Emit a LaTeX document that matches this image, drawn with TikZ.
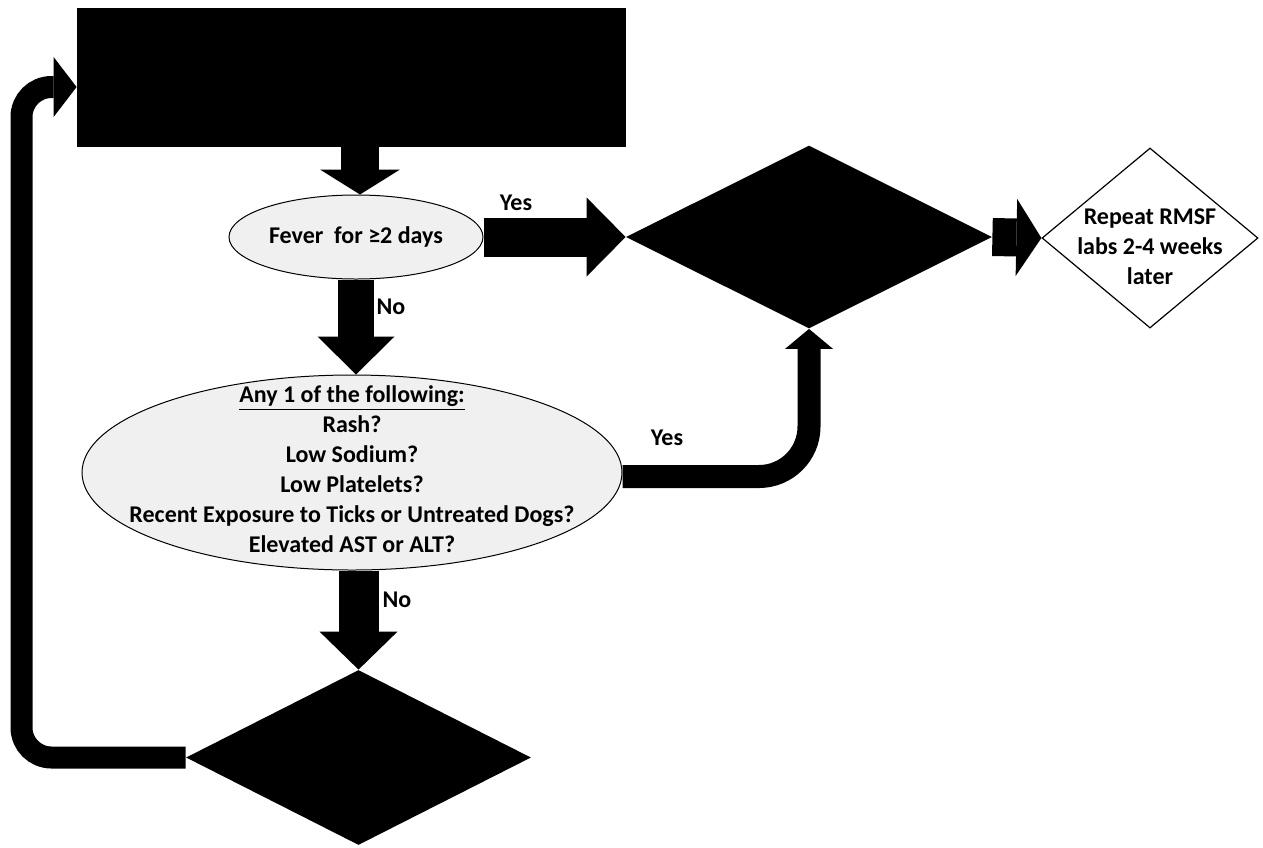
\documentclass[tikz,border=0pt]{standalone}
\usepackage{fontspec}
\setmainfont{Carlito}
\usetikzlibrary{arrows.meta,shapes.geometric,calc}
\begin{document}
\begin{tikzpicture}[x=0.5pt,y=-0.5pt,
  txt/.style={font=\bfseries\fontsize{12pt}{15pt}\selectfont, align=center, inner sep=0pt},
  blackbox/.style={rectangle, fill=black, draw=none, inner sep=0pt},
  oval/.style={ellipse, draw=black, line width=0.5pt, fill=gray!12, inner sep=0pt},
  blackdia/.style={diamond, fill=black, draw=none, inner sep=0pt},
  whitedia/.style={diamond, fill=white, draw=black, line width=0.6pt, inner sep=0pt},
  fat/.style={draw=black, line width=#1},
  tip/.style 2 args={-{Triangle[width=#1,length=#2,line width=0pt]}},
]
\useasboundingbox[fill=white] (0,0) rectangle (1263,847);

% shapes
\node[blackbox, minimum width=274.5pt, minimum height=69.5pt] (top) at (351.5,77.5) {};
\node[oval, minimum width=127pt, minimum height=42pt] (e1) at (356,237) {};
\node[oval, minimum width=270pt, minimum height=97.5pt] (e2) at (352,472.5) {};
\node[blackdia, minimum width=183pt, minimum height=91.5pt] (d1) at (809,237) {};
\node[whitedia, minimum width=108pt, minimum height=90pt] (d2) at (1150,238) {};
\node[blackdia, minimum width=172.5pt, minimum height=87.5pt] (d3) at (358.5,757.5) {};

% texts
\node[txt] (t1) at (356,237) {Fever\ \ for ≥2 days};
\node[txt] (t2) at (352,469) {\underline{Any 1 of the following:}\\Rash?\\Low Sodium?\\Low Platelets?\\Recent Exposure to Ticks or Untreated Dogs?\\Elevated AST or ALT?};
\node[txt] (t3) at (1150,247) {Repeat RMSF\\labs 2-4 weeks\\later};

% connectors
\coordinate (ax) at (360,0);
\draw[fat=19pt, tip={40pt}{12.5pt}] (top.south -| ax) -- (e1.north -| ax);
\draw[fat=19.5pt, tip={39.5pt}{19.5pt}] (e1.east) -- (d1.west);
\draw[fat=19pt, tip={38.5pt}{12.5pt}] (d1.east) -- (d2.west);
\draw[fat=18pt, tip={38.5pt}{19pt}] (e1.south) -- (e1.south |- e2.north);
\draw[fat=20pt, tip={39pt}{19pt}] (e2.south -| d3.north) -- (d3.north);
\draw[fat=11.5pt, tip={24pt}{10pt}, rounded corners=25pt] ([yshift=-2pt]e2.east) -| (d1.south);
\coordinate (lp) at (21.5,87);
\draw[fat=11pt, tip={30pt}{11.5pt}, rounded corners=15pt] (d3.west) -| (lp) -- (top.west |- lp);

% labels
\node[txt] (yes1) at (516,203) {Yes};
\node[txt] (no1) at (391,307) {No};
\node[txt] (yes2) at (667,438) {Yes};
\node[txt] (no2) at (397,600) {No};
\end{tikzpicture}
\end{document}
